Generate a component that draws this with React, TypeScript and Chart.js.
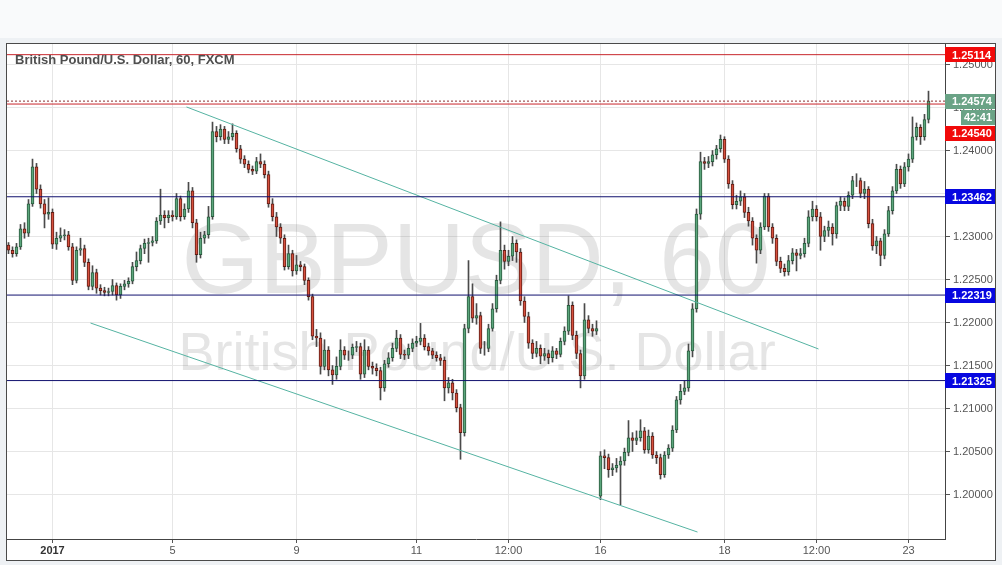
import React, { useEffect, useRef } from 'react';
import { Chart, registerables } from 'chart.js';

Chart.register(...registerables);

// ---- Data (GBPUSD hourly candles) ----
const CLOSE = [
  1.2284, 1.2280, 1.2288, 1.2309, 1.2304, 1.2338, 1.2381, 1.2355, 1.2338, 1.2326,
  1.2328, 1.2291, 1.2298, 1.2301, 1.2302, 1.2288, 1.2249, 1.2284, 1.2286, 1.2270,
  1.2242, 1.2258, 1.2240, 1.2237, 1.2235, 1.2236, 1.2243, 1.2232, 1.2242, 1.2245,
  1.2248, 1.2265, 1.2272, 1.2286, 1.2292, 1.2293, 1.2295, 1.2318, 1.2325, 1.2322,
  1.2325, 1.2323, 1.2344, 1.2323, 1.2332, 1.2353, 1.2316, 1.2279, 1.2298, 1.2302,
  1.2323, 1.2422, 1.2416, 1.2425, 1.2413, 1.2416, 1.2420, 1.2402, 1.2390, 1.2384,
  1.2378, 1.2376, 1.2387, 1.2384, 1.2372, 1.2338, 1.2323, 1.2311, 1.2298, 1.2265,
  1.2280, 1.2260, 1.2267, 1.2265, 1.2249, 1.2230, 1.2184, 1.2182, 1.2149, 1.2168,
  1.2145, 1.2139, 1.2149, 1.2168, 1.2162, 1.2162, 1.2171, 1.2172, 1.2140, 1.2168,
  1.2149, 1.2147, 1.2144, 1.2124, 1.2152, 1.2159, 1.2170, 1.2182, 1.2163, 1.2162,
  1.2170, 1.2176, 1.2178, 1.2182, 1.2172, 1.2167, 1.2162, 1.2159, 1.2156, 1.2124,
  1.2130, 1.2118, 1.2101, 1.2072, 1.2193, 1.2230, 1.2205, 1.2208, 1.2170, 1.2170,
  1.2193, 1.2216, 1.2249, 1.2284, 1.2271, 1.2277, 1.2292, 1.2282, 1.2225, 1.2207,
  1.2176, 1.2164, 1.2170, 1.2161, 1.2164, 1.2159, 1.2167, 1.2163, 1.2178, 1.2190,
  1.2220, 1.2185, 1.2164, 1.2138, 1.2203, 1.2193, 1.2190, 1.2193, 1.2045, 1.2043,
  1.2029, 1.2031, 1.2034, 1.2039, 1.2049, 1.2066, 1.2063, 1.2066, 1.2074, 1.2052,
  1.2068, 1.2046, 1.2043, 1.2023, 1.2046, 1.2054, 1.2075, 1.2110, 1.2120, 1.2124,
  1.2167, 1.2216, 1.2326, 1.2387, 1.2385, 1.2387, 1.2395, 1.2402, 1.2413, 1.2390,
  1.2361, 1.2337, 1.2341, 1.2346, 1.2328, 1.2318, 1.2298, 1.2284, 1.2311, 1.2347,
  1.2311, 1.2298, 1.2271, 1.2263, 1.2259, 1.2272, 1.2281, 1.2278, 1.2280, 1.2292,
  1.2323, 1.2332, 1.2323, 1.2300, 1.2307, 1.2311, 1.2303, 1.2336, 1.2341, 1.2335,
  1.2348, 1.2365, 1.2365, 1.2350, 1.2355, 1.2315, 1.2289, 1.2295, 1.2278, 1.2303,
  1.2330, 1.2353, 1.2378, 1.2361, 1.2381, 1.2390, 1.2416, 1.2427, 1.2416, 1.2436,
  1.24574,
];

const HIGH = [
  1.2293, 1.2288, 1.2292, 1.2314, 1.2316, 1.2343, 1.2390, 1.2385, 1.2360, 1.2343,
  1.2345, 1.2332, 1.2305, 1.2310, 1.2308, 1.2306, 1.2292, 1.2288, 1.2298, 1.2290,
  1.2274, 1.2266, 1.2262, 1.2244, 1.2241, 1.2240, 1.2250, 1.2246, 1.2245, 1.2249,
  1.2252, 1.2270, 1.2282, 1.2290, 1.2297, 1.2298, 1.2300, 1.2322, 1.2355, 1.2330,
  1.2330, 1.2330, 1.2350, 1.2347, 1.2338, 1.2363, 1.2357, 1.2320, 1.2305, 1.2306,
  1.2335, 1.2433, 1.2428, 1.2430, 1.2428, 1.2422, 1.2431, 1.2423, 1.2406, 1.2394,
  1.2388, 1.2382, 1.2392, 1.2396, 1.2388, 1.2376, 1.2344, 1.2328, 1.2315, 1.2302,
  1.2290, 1.2284, 1.2278, 1.2271, 1.2268, 1.2252, 1.2233, 1.2192, 1.2188, 1.2180,
  1.2172, 1.2150, 1.2160, 1.2180, 1.2172, 1.2167, 1.2175, 1.2178, 1.2176, 1.2180,
  1.2172, 1.2154, 1.2152, 1.2148, 1.2156, 1.2165, 1.2176, 1.2191, 1.2186, 1.2168,
  1.2175, 1.2181, 1.2184, 1.2199, 1.2186, 1.2176, 1.2170, 1.2166, 1.2163, 1.2160,
  1.2136, 1.2134, 1.2122, 1.2105, 1.2198, 1.2272, 1.2245, 1.2222, 1.2212, 1.2178,
  1.2198, 1.2222, 1.2255, 1.2317, 1.2290, 1.2284, 1.2300, 1.2296, 1.2286, 1.2230,
  1.2212, 1.2180, 1.2178, 1.2174, 1.2170, 1.2168, 1.2172, 1.2170, 1.2182, 1.2195,
  1.2231, 1.2224, 1.2190, 1.2168, 1.2222, 1.2208, 1.2198, 1.2202, 1.2050, 1.2052,
  1.2047, 1.2036, 1.2042, 1.2044, 1.2054, 1.2086, 1.2072, 1.2074, 1.2087, 1.2078,
  1.2075, 1.2072, 1.2050, 1.2047, 1.2050, 1.2058, 1.2080, 1.2114, 1.2128, 1.2132,
  1.2175, 1.2222, 1.2332, 1.2398, 1.2392, 1.2393, 1.2400, 1.2406, 1.2418, 1.2416,
  1.2394, 1.2365, 1.2348, 1.2353, 1.2350, 1.2334, 1.2322, 1.2302, 1.2316, 1.2350,
  1.2350, 1.2315, 1.2302, 1.2276, 1.2268, 1.2278, 1.2286, 1.2285, 1.2286, 1.2298,
  1.2330, 1.2341, 1.2336, 1.2328, 1.2312, 1.2318, 1.2315, 1.2340, 1.2346, 1.2345,
  1.2352, 1.2370, 1.2373, 1.2368, 1.2364, 1.2358, 1.2320, 1.2300, 1.2298, 1.2308,
  1.2335, 1.2358, 1.2384, 1.2382, 1.2386, 1.2396, 1.2439, 1.2432, 1.2430, 1.2442,
  1.2469,
];

const LOW = [
  1.2280, 1.2276, 1.2277, 1.2285, 1.2298, 1.2300, 1.2335, 1.2350, 1.2333, 1.2310,
  1.2320, 1.2286, 1.2285, 1.2294, 1.2296, 1.2284, 1.2244, 1.2246, 1.2278, 1.2265,
  1.2238, 1.2238, 1.2234, 1.2232, 1.2231, 1.2231, 1.2232, 1.2226, 1.2228, 1.2238,
  1.2241, 1.2245, 1.2260, 1.2268, 1.2280, 1.2270, 1.2289, 1.2292, 1.2314, 1.2310,
  1.2316, 1.2318, 1.2320, 1.2318, 1.2320, 1.2328, 1.2310, 1.2270, 1.2275, 1.2292,
  1.2298, 1.2320, 1.2410, 1.2412, 1.2408, 1.2408, 1.2412, 1.2398, 1.2385, 1.2380,
  1.2374, 1.2372, 1.2373, 1.2380, 1.2368, 1.2334, 1.2318, 1.2300, 1.2292, 1.2261,
  1.2262, 1.2254, 1.2256, 1.2260, 1.2244, 1.2226, 1.2180, 1.2172, 1.2140, 1.2145,
  1.2138, 1.2128, 1.2134, 1.2145, 1.2157, 1.2156, 1.2158, 1.2166, 1.2134, 1.2136,
  1.2145, 1.2140, 1.2138, 1.2110, 1.2120, 1.2148, 1.2155, 1.2166, 1.2158, 1.2157,
  1.2158, 1.2166, 1.2172, 1.2174, 1.2168, 1.2162, 1.2158, 1.2155, 1.2150, 1.2109,
  1.2118, 1.2110, 1.2096, 1.2041, 1.2068, 1.2188, 1.2200, 1.2198, 1.2164, 1.2162,
  1.2166, 1.2190, 1.2212, 1.2245, 1.2262, 1.2266, 1.2272, 1.2270, 1.2220, 1.2200,
  1.2170, 1.2158, 1.2160, 1.2152, 1.2156, 1.2152, 1.2154, 1.2158, 1.2160, 1.2174,
  1.2186, 1.2180, 1.2158, 1.2124, 1.2134, 1.2188, 1.2184, 1.2186, 1.1994, 1.2030,
  1.2020, 1.2022, 1.2026, 1.1988, 1.2034, 1.2045, 1.2050, 1.2058, 1.2062, 1.2048,
  1.2048, 1.2042, 1.2036, 1.2018, 1.2020, 1.2042, 1.2050, 1.2072, 1.2105, 1.2116,
  1.2120, 1.2160, 1.2212, 1.2320, 1.2378, 1.2380, 1.2382, 1.2390, 1.2398, 1.2386,
  1.2356, 1.2332, 1.2332, 1.2336, 1.2322, 1.2312, 1.2290, 1.2269, 1.2280, 1.2308,
  1.2306, 1.2292, 1.2266, 1.2258, 1.2254, 1.2255, 1.2268, 1.2260, 1.2274, 1.2276,
  1.2288, 1.2318, 1.2318, 1.2284, 1.2294, 1.2300, 1.2290, 1.2298, 1.2330, 1.2330,
  1.2330, 1.2344, 1.2358, 1.2345, 1.2344, 1.2310, 1.2284, 1.2280, 1.2266, 1.2274,
  1.2300, 1.2326, 1.2350, 1.2356, 1.2358, 1.2376, 1.2386, 1.2412, 1.2407, 1.2412,
  1.2432,
];

const FIRST_OPEN = 1.2290;
const GAP_OPENS: Record<number, number> = { 148: 1.1998 };

const X_TICK_INDEX = [11, 41, 72, 102, 125, 148, 179, 202, 225];
const X_TICK_LABELS = ['2017', '5', '9', '11', '12:00', '16', '18', '12:00', '23'];
const Y_TICKS = [1.2, 1.205, 1.21, 1.215, 1.22, 1.225, 1.23, 1.235, 1.24, 1.245, 1.25];

const RED_LEVELS = [1.25114, 1.2454];
const BLUE_LEVELS = [1.23462, 1.22319, 1.21325];
const LAST_PRICE = 1.24574;
const COUNTDOWN = '42:41';

const UPPER_CHANNEL = [
  { x: 44.5, y: 1.24506 },
  { x: 202.5, y: 1.21692 },
];
const LOWER_CHANNEL = [
  { x: 20.5, y: 1.21994 },
  { x: 172.25, y: 1.19564 },
];

const TITLE = 'British Pound/U.S. Dollar, 60, FXCM';
const WATERMARK_1 = 'GBPUSD, 60';
const WATERMARK_2 = 'British Pound/U.S. Dollar';

// ---- Style ----
const X_MIN = -0.375;
const X_MAX = 234.125;
const Y_MIN = 1.19483;
const Y_MAX = 1.25238;
const FONT = '"Liberation Sans", Arial, sans-serif';
const UP = '#5ba67c';
const DOWN = '#d6503e';
const UP_BORDER = '#2a5a3e';
const DOWN_BORDER = '#5e1c14';
const RED = '#f10a0a';
const LINE_RED = '#c8262c';
const BLUE = '#0707e0';
const NAVY = '#10106e';
const TEAL = '#55b3a2';
const LAST_GREEN = '#6aa386';

export default function App() {
  const ref = useRef<HTMLCanvasElement | null>(null);

  useEffect(() => {
    document.body.style.margin = '0';
    const canvas = ref.current;
    if (!canvas) return;

    const OPEN = CLOSE.map((c, i) =>
      GAP_OPENS[i] !== undefined ? GAP_OPENS[i] : i === 0 ? FIRST_OPEN : CLOSE[i - 1]
    );
    const up = CLOSE.map((c, i) => c >= OPEN[i]);

    const hLine = (y: number) => [
      { x: X_MIN, y },
      { x: X_MAX, y },
    ];

    const lineDs = (data: any[], color: string, dash: number[] = []) => ({
      type: 'line' as const,
      data,
      borderColor: color,
      borderWidth: 1,
      borderDash: dash,
      pointRadius: 0,
      fill: false,
      order: 0,
    });

    const decor = {
      id: 'decor',
      beforeDatasetsDraw(chart: any) {
        const { ctx, chartArea } = chart;
        ctx.save();
        ctx.beginPath();
        ctx.rect(chartArea.left, chartArea.top, chartArea.right - chartArea.left, chartArea.bottom - chartArea.top);
        ctx.clip();
        ctx.fillStyle = 'rgba(110,110,110,0.18)';
        ctx.textAlign = 'center';
        ctx.textBaseline = 'alphabetic';
        ctx.font = `100px ${FONT}`;
        ctx.fillText(WATERMARK_1, 470, 250);
        ctx.font = `54px ${FONT}`;
        ctx.fillText(WATERMARK_2, 471, 327);
        ctx.restore();
      },
      afterDraw(chart: any) {
        const { ctx, chartArea, scales } = chart;
        const ys = scales.y;
        ctx.save();
        // title
        ctx.fillStyle = '#4e4e4e';
        ctx.font = `bold 13px ${FONT}`;
        ctx.textAlign = 'left';
        ctx.textBaseline = 'middle';
        ctx.fillText(TITLE, 9, 17);

        // outer frame (also left/top edge of the plot)
        ctx.strokeStyle = '#4a4a4a';
        ctx.lineWidth = 1;
        ctx.strokeRect(0.5, 0.5, chart.width - 1, chart.height - 1);

        // price labels on the right axis
        const left = chartArea.right;
        const right = chart.width - 1;
        const box = (yc: number, color: string, text: string, x0 = left, center = false) => {
          ctx.fillStyle = color;
          ctx.fillRect(x0, Math.round(yc - 7.5), right - x0, 15);
          ctx.fillStyle = '#ffffff';
          ctx.font = `bold 11px ${FONT}`;
          ctx.textBaseline = 'middle';
          if (center) {
            ctx.textAlign = 'center';
            ctx.fillText(text, (x0 + right) / 2, Math.round(yc) + 0.5);
          } else {
            ctx.textAlign = 'left';
            ctx.fillText(text, x0 + 7, Math.round(yc) + 0.5);
          }
        };
        box(ys.getPixelForValue(RED_LEVELS[0]), RED, RED_LEVELS[0].toFixed(5));
        BLUE_LEVELS.forEach((v) => box(ys.getPixelForValue(v), BLUE, v.toFixed(5)));
        const lp = ys.getPixelForValue(LAST_PRICE);
        box(lp, LAST_GREEN, LAST_PRICE.toFixed(5));
        box(lp + 16, LAST_GREEN, COUNTDOWN, left + 16, true);
        box(lp + 32, RED, RED_LEVELS[1].toFixed(5));
        ctx.restore();
      },
    };

    const zeroPad = (s: any) => {
      s.paddingTop = 0;
      s.paddingBottom = 0;
      s.paddingLeft = 0;
      s.paddingRight = 0;
    };

    const chart = new Chart(canvas, {
      type: 'bar',
      data: {
        datasets: [
          ...RED_LEVELS.map((v) => lineDs(hLine(v), LINE_RED)),
          lineDs(hLine(LAST_PRICE), '#8a3030', [2, 2]),
          ...BLUE_LEVELS.map((v) => lineDs(hLine(v), NAVY)),
          lineDs(UPPER_CHANNEL, TEAL),
          lineDs(LOWER_CHANNEL, TEAL),
          {
            type: 'bar' as const,
            data: CLOSE.map((c, i) => ({ x: i, y: [OPEN[i], c] })),
            backgroundColor: up.map((u) => (u ? UP : DOWN)),
            borderColor: up.map((u) => (u ? UP_BORDER : DOWN_BORDER)),
            borderWidth: 1,
            borderSkipped: false,
            barThickness: 3,
            grouped: false,
            order: 1,
          },
          {
            type: 'bar' as const,
            data: CLOSE.map((c, i) => ({ x: i, y: [LOW[i], HIGH[i]] })),
            backgroundColor: '#4a4a4a',
            borderWidth: 0,
            barThickness: 1,
            grouped: false,
            order: 2,
          },
        ] as any,
      },
      options: {
        animation: false,
        responsive: false,
        maintainAspectRatio: false,
        layout: { padding: { left: 1, right: 1, top: 1, bottom: 1 } },
        plugins: {
          legend: { display: false },
          tooltip: { enabled: false },
          title: { display: false },
        },
        scales: {
          x: {
            type: 'linear',
            min: X_MIN,
            max: X_MAX,
            offset: false,
            afterFit: (s: any) => {
              s.height = 21;
              zeroPad(s);
            },
            afterBuildTicks: (s: any) => {
              s.ticks = X_TICK_INDEX.map((v) => ({ value: v }));
            },
            grid: { color: '#e6e6e6', tickColor: '#555', tickLength: 4, offset: false, drawTicks: true },
            border: { display: true, color: '#444', width: 1 },
            ticks: {
              autoSkip: false,
              maxRotation: 0,
              padding: 1,
              color: (c: any) => (c.index === 0 ? '#333' : '#555'),
              font: (c: any) => ({ family: FONT, size: 11, weight: c.index === 0 ? 'bold' : 'normal' }),
              callback: (_v: any, i: number) => X_TICK_LABELS[i],
            },
          },
          y: {
            type: 'linear',
            position: 'right',
            min: Y_MIN,
            max: Y_MAX,
            afterFit: (s: any) => {
              s.width = 50;
              zeroPad(s);
            },
            afterBuildTicks: (s: any) => {
              s.ticks = Y_TICKS.map((v) => ({ value: v }));
            },
            grid: { color: '#e6e6e6', tickColor: '#555', tickLength: 5, drawTicks: true },
            border: { display: true, color: '#444', width: 1 },
            ticks: {
              padding: 3,
              color: '#555',
              font: { family: FONT, size: 11 },
              callback: (v: any) => Number(v).toFixed(5),
            },
          },
        },
      } as any,
      plugins: [decor],
    });

    return () => chart.destroy();
  }, []);

  return (
    <div style={{ position: 'relative', width: 1002, height: 565, background: '#eef1f4', overflow: 'hidden' }}>
      <div style={{ position: 'absolute', left: 0, top: 0, width: 1002, height: 38, background: '#f9fafb' }} />
      <canvas
        ref={ref}
        width={990}
        height={518}
        style={{ position: 'absolute', left: 6, top: 43, width: 990, height: 518, background: '#ffffff' }}
      />
    </div>
  );
}
